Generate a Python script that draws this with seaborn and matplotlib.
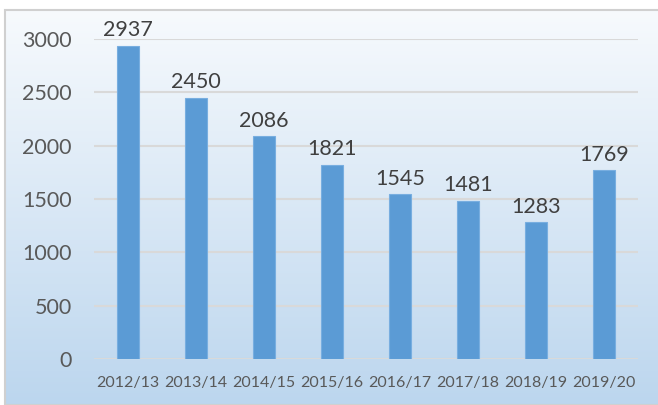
import numpy as np
import pandas as pd
import seaborn as sns
import matplotlib.pyplot as plt
from matplotlib.patches import Rectangle
from matplotlib.colors import LinearSegmentedColormap

# === Dati ===
seasons = ['2012/13', '2013/14', '2014/15', '2015/16', '2016/17', '2017/18', '2018/19', '2019/20']
values = [2937, 2450, 2086, 1821, 1545, 1481, 1283, 1769]
yticks = [0, 500, 1000, 1500, 2000, 2500, 3000]

df = pd.DataFrame({'season': seasons, 'value': values})

sns.set_theme(style='white')
plt.rcParams['font.family'] = ['Lato', 'DejaVu Sans']

fig = plt.figure(figsize=(6.58, 4.05), dpi=100)
fig.patch.set_facecolor('white')

# === Sfondo sfumato con bordo ===
bx, by = 5 / 658, 0.0
bw, bh = 1 - bx, (405 - 10) / 405
bg = fig.add_axes([bx, by, bw, bh], zorder=0)
grad = np.linspace(0, 1, 256).reshape(-1, 1)
cmap = LinearSegmentedColormap.from_list('bg', ['#f7fafd', '#bcd6ee'])
bg.imshow(grad, aspect='auto', cmap=cmap, extent=[0, 1, 0, 1], origin='upper')
bg.set_axis_off()
fig.patches.append(Rectangle((bx, by), bw + 0.01, bh, transform=fig.transFigure,
                             fill=False, edgecolor='#d0d0d0', linewidth=1.5, zorder=5))

# === Grafico a barre ===
ax = fig.add_axes([94 / 658, 1 - 359 / 405, (638 - 94) / 658, (359 - 39) / 405], zorder=1)
ax.patch.set_alpha(0)
sns.barplot(data=df, x='season', y='value', color='#5b9bd5', saturation=1, width=0.31,
            edgecolor='#78aee0', linewidth=0.8, ax=ax, zorder=3)

ax.set_ylim(0, 3000)
ax.set_xlim(-0.5, len(seasons) - 0.5)
ax.set_yticks(yticks)
ax.yaxis.grid(True, color='#d9d9d9', linewidth=1.5, zorder=0)
ax.set_axisbelow(True)
for s in ['top', 'right', 'left', 'bottom']:
    ax.spines[s].set_visible(False)
ax.axhline(0, color='#d9d9d9', linewidth=1.5, zorder=2)
ax.set_xlabel('')
ax.set_ylabel('')
ax.tick_params(axis='y', labelsize=15.5, colors='#595959', length=0, pad=16)
ax.tick_params(axis='x', labelsize=11.5, colors='#595959', length=0, pad=12)

for c in ax.containers:
    ax.bar_label(c, labels=[str(v) for v in values], padding=4, fontsize=15.5,
                 color='#404040', clip_on=False)

plt.savefig('out.png', dpi=100)
